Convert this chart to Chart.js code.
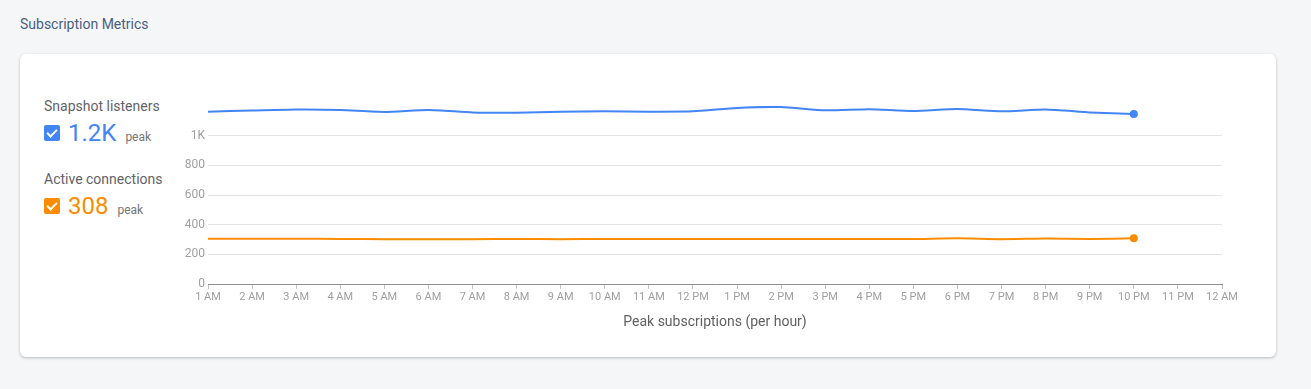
<!DOCTYPE html>
<html>
<head>
<meta charset="utf-8">
<script src="https://cdn.jsdelivr.net/npm/chart.js@4.4.1/dist/chart.umd.min.js"></script>
<style>
    body {
        margin: 0;
        width: 1311px;
        height: 389px;
        background: #f5f6f8;
        font-family: Roboto, "Noto Sans", sans-serif;
        position: relative;
        overflow: hidden;
    }
    .page-title {
        position: absolute;
        left: 20px;
        top: 16px;
        font-size: 14px;
        color: #4a5f7f;
    }
    .card {
        position: absolute;
        left: 20px;
        top: 54px;
        width: 1256px;
        height: 303px;
        background: #fff;
        border-radius: 6px;
        box-shadow: 0 1px 3px rgba(0, 0, 0, 0.25);
    }
    .legend-item {
        position: absolute;
        left: 24px;
    }
    .legend-label {
        font-size: 14px;
        color: #5f6368;
    }
    .legend-value {
        display: flex;
        align-items: baseline;
        margin-top: 5px;
    }
    .check {
        width: 16px;
        height: 16px;
        border-radius: 2px;
        position: relative;
        align-self: center;
        margin-right: 8px;
    }
    .check::after {
        content: '';
        position: absolute;
        left: 5px;
        top: 2px;
        width: 4px;
        height: 8px;
        border: solid #fff;
        border-width: 0 2px 2px 0;
        transform: rotate(45deg);
    }
    .big {
        font-size: 24px;
        margin-right: 9px;
    }
    .peak {
        font-size: 12px;
        color: #757575;
    }
    #chartBox {
        position: absolute;
        left: 150px;
        top: 90px;
        width: 1100px;
        height: 244px;
    }
</style>
</head>
<body>
<div class="page-title">Subscription Metrics</div>
<div class="card">
    <div class="legend-item" style="top: 44px;">
        <div class="legend-label">Snapshot listeners</div>
        <div class="legend-value">
            <div class="check" style="background: #4285f4;"></div>
            <span class="big" style="color: #4285f4;">1.2K</span>
            <span class="peak">peak</span>
        </div>
    </div>
    <div class="legend-item" style="top: 117px;">
        <div class="legend-label">Active connections</div>
        <div class="legend-value">
            <div class="check" style="background: #fb8c00;"></div>
            <span class="big" style="color: #fb8c00;">308</span>
            <span class="peak">peak</span>
        </div>
    </div>
</div>
<div id="chartBox"><canvas id="metrics"></canvas></div>

<script>
    // hour labels along the x axis
    var hours = ['1 AM', '2 AM', '3 AM', '4 AM', '5 AM', '6 AM', '7 AM', '8 AM', '9 AM', '10 AM', '11 AM', '12 PM',
        '1 PM', '2 PM', '3 PM', '4 PM', '5 PM', '6 PM', '7 PM', '8 PM', '9 PM', '10 PM', '11 PM', '12 AM'];

    // peak values per hour (1 AM .. 10 PM)
    var snapshotListeners = [1162, 1169, 1176, 1173, 1160, 1173, 1157, 1155, 1162, 1164, 1162, 1164,
        1187, 1193, 1171, 1178, 1166, 1180, 1164, 1176, 1157, 1146];
    var activeConnections = [305, 305, 305, 304, 302, 302, 302, 304, 302, 304, 304, 303,
        303, 303, 303, 303, 303, 308, 302, 307, 303, 308];

    var yTicks = [0, 200, 400, 600, 800, 1000];

    function lastPointOnly(ctx) {
        return ctx.dataIndex === ctx.dataset.data.length - 1 ? 4 : 0;
    }

    function createSeries(label, values, color) {
        return {
            label: label,
            data: values,
            borderColor: color,
            backgroundColor: color,
            borderWidth: 2,
            tension: 0.2,
            pointRadius: lastPointOnly,
            pointHoverRadius: lastPointOnly,
            pointBorderWidth: 0,
        };
    }

    const canvas = document.getElementById('metrics');

    const config = {
        type: 'line',
        data: {
            labels: hours,
            datasets: [
                createSeries('Snapshot listeners', snapshotListeners, '#4285f4'),
                createSeries('Active connections', activeConnections, '#fb8c00'),
            ]
        },
        options: {
            responsive: true,
            maintainAspectRatio: false,
            animation: false,
            layout: {
                padding: { top: 16, right: 28, left: 0, bottom: 0 }
            },
            scales: {
                x: {
                    offset: false,
                    grid: {
                        drawOnChartArea: false,
                        drawTicks: true,
                        tickLength: 5,
                        color: '#c4c4c4',
                    },
                    border: {
                        display: true,
                        color: '#8f8f8f',
                        width: 1,
                    },
                    ticks: {
                        color: '#a0a0a0',
                        font: { family: 'Roboto', size: 11 },
                        padding: 2,
                        maxRotation: 0,
                        autoSkip: false,
                    },
                    title: {
                        display: true,
                        text: 'Peak subscriptions (per hour)',
                        color: '#616161',
                        font: { family: 'Roboto', size: 14 },
                        padding: { top: 4, bottom: 3 },
                    },
                    afterFit: function (scale) {
                        scale.height = 50;
                    }
                },
                y: {
                    min: 0,
                    max: 1200,
                    grid: {
                        color: '#e4e4e4',
                        drawTicks: false,
                    },
                    border: {
                        display: false,
                    },
                    ticks: {
                        stepSize: 200,
                        padding: 3,
                        color: '#a0a0a0',
                        font: { family: 'Roboto', size: 12 },
                        callback: function (value) {
                            return value >= 1000 ? (value / 1000) + 'K' : value;
                        }
                    },
                    afterBuildTicks: function (axis) {
                        axis.ticks = yTicks.map(function (v) { return { value: v }; });
                    },
                    afterFit: function (scale) {
                        scale.width = 58;
                    }
                }
            },
            plugins: {
                legend: { display: false },
                tooltip: { enabled: false }
            }
        }
    };

    const jsChart = new Chart(canvas, config);
</script>
</body>
</html>
